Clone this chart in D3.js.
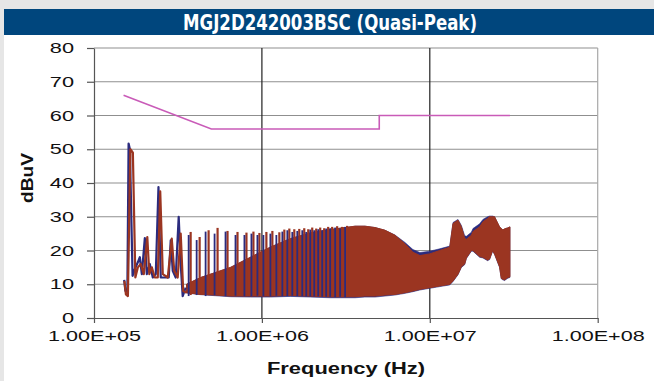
<!DOCTYPE html>
<html><head><meta charset="utf-8">
<script src="https://cdn.jsdelivr.net/npm/d3@7"></script>
<style>html,body{margin:0;padding:0;background:#e6e6e6;}svg{display:block}</style>
</head><body><svg id="c" width="654" height="381"></svg>
<script>
// ---------- DATA ----------
const chartTitle = "MGJ2D242003BSC (Quasi-Peak)";
const yTicks = [0, 10, 20, 30, 40, 50, 60, 70, 80];
const xTicks = [1e5, 1e6, 1e7, 1e8];
const xTickLabels = ["1.00E+05", "1.00E+06", "1.00E+07", "1.00E+08"];
const xTitle = "Frequency (Hz)";
const yTitle = "dBuV";

// limit line (Hz, dBuV)
const limitFreq = [150000, 500000, 5000000, 5000000, 30000000];
const limitVal  = [66, 56, 56, 60, 60];

// low-frequency trace, series A (blue), kHz / dBuV
const blueFreqKHz = [151.3, 153.8, 158.0, 160.7, 163.6, 169.7, 175.1, 182.4, 187.5, 192.7, 200.8, 206.3, 214.9, 224.0, 233.3, 242.1, 249.8, 267.6, 278.7, 286.4, 294.4, 306.7, 319.5, 328.4, 337.5, 351.6];
const blueVal     = [11.3, 8.0, 7.8, 51.7, 50.0, 12.5, 14.5, 16.5, 18.0, 13.0, 23.7, 13.0, 16.0, 12.0, 13.0, 38.8, 12.0, 12.0, 12.0, 23.0, 14.0, 12.0, 30.0, 16.0, 6.5, 9.0];
// low-frequency trace, series B (rust), kHz / dBuV
const rustFreqKHz = [151.7, 154.9, 159.2, 164.7, 170.4, 176.3, 182.4, 190.0, 198.0, 207.7, 213.5, 221.0, 230.1, 239.8, 248.0, 256.8, 275.0, 290.4, 300.5, 315.1, 328.4, 339.8, 356.4];
const rustVal     = [11.0, 7.0, 6.5, 50.0, 49.0, 12.0, 15.0, 16.0, 13.0, 24.0, 13.0, 15.0, 12.0, 12.0, 37.5, 13.0, 12.0, 23.5, 14.0, 12.0, 25.0, 8.0, 7.5];

// harmonic spikes (MHz / dBuV peak, dBuV trough)
const blueSpikeMHz = [0.3662, 0.4087, 0.4621, 0.5226, 0.6073, 0.6963, 0.7870, 0.8663, 0.9404, 1.0207, 1.1233, 1.2194, 1.3236, 1.4171, 1.5172, 1.6245, 1.7394, 1.8370, 1.9403, 2.0494, 2.1645, 2.2862, 2.4146, 2.5503, 2.7306, 2.9240, 3.1307];
const blueSpikeTop = [24.6, 23.1, 25.6, 25.0, 25.6, 24.6, 24.6, 25.0, 24.6, 24.6, 25.0, 24.6, 25.6, 26.0, 25.5, 25.8, 26.0, 25.5, 26.2, 26.0, 26.3, 26.0, 26.5, 26.6, 26.8, 26.5, 27.0];
const blueSpikeLow = [6.5, 6.8, 6.5, 6.8, 6.5, 6.6, 6.5, 6.5, 6.6, 6.5, 6.5, 6.6, 6.5, 6.5, 6.6, 6.5, 6.5, 6.4, 6.5, 6.4, 6.4, 6.3, 6.3, 6.3, 6.2, 6.3, 6.2];
const rustSpikeMHz = [0.3764, 0.4258, 0.4815, 0.5445, 0.6241, 0.7156, 0.8091, 0.8903, 0.9664, 1.0634, 1.1544, 1.2704, 1.3602, 1.4563, 1.5593, 1.6695, 1.7875, 1.8879, 1.9940, 2.1062, 2.2245, 2.3495, 2.4815, 2.6210, 2.8063, 3.0050, 3.2175];
const rustSpikeTop = [25.5, 24.0, 26.0, 26.7, 25.8, 25.5, 25.3, 25.6, 25.2, 25.5, 25.8, 25.4, 26.2, 26.5, 26.3, 26.4, 26.6, 26.3, 26.8, 26.5, 26.8, 26.6, 27.0, 27.0, 27.2, 27.0, 27.3];
const rustSpikeLow = [6.8, 7.0, 6.8, 7.0, 6.8, 6.8, 6.8, 6.7, 6.8, 6.8, 6.7, 6.8, 6.7, 6.8, 6.7, 6.6, 6.6, 6.6, 6.5, 6.5, 6.5, 6.4, 6.4, 6.4, 6.3, 6.3, 6.3];

// dense region envelope (MHz / dBuV)
const bandFreqMHz = [0.356, 0.4315, 0.530, 0.650, 0.855, 1.123, 1.476, 1.940, 2.55, 3.13, 3.59, 4.11, 4.72, 5.41, 6.20, 7.11, 7.93, 8.73, 10.0, 11.46, 13.15, 13.75, 14.72, 15.42, 16.13, 16.51, 17.68, 18.07, 19.81, 20.72, 22.09, 22.71, 23.66, 24.31, 26.03, 26.65, 27.23, 27.87, 29.15, 30.0];
const rustUpper = [10, 12, 13.5, 15, 18, 21, 23.5, 25.2, 26.2, 26.8, 27.2, 27.2, 26.8, 26, 24.5, 22, 19.5, 18.5, 19, 20, 21, 28, 29, 27, 23.6, 23.3, 24.5, 25.6, 27, 28.5, 29.5, 30, 30, 30, 27, 26.5, 26.1, 26.4, 26.7, 27];
const rustLower = [7.5, 7, 6.8, 6.5, 6.5, 6.5, 6.7, 6.5, 6.3, 6.3, 6.3, 6.5, 6.5, 6.8, 7, 7.5, 8, 8.5, 9, 9.5, 10, 11, 13, 15.2, 16, 17.8, 20, 20, 18.2, 18, 17.2, 17.5, 20, 19, 15.2, 11.8, 11.5, 11.3, 12, 12.2];
const blueUpper = [10, 12, 13.5, 15, 18, 21, 23.5, 25.2, 26.2, 26.8, 27.2, 27.2, 26.8, 26, 24.6, 22.4, 20.3, 19.4, 19.8, 20.5, 21.3, 28.3, 29.2, 27.4, 24.4, 24.2, 25.4, 26.5, 27.9, 29.2, 30, 30.2, 30.2, 30, 27, 26.5, 26.1, 26.4, 26.7, 27];
const blueLower = [7.4, 6.9, 6.6, 6.3, 6.2, 6.2, 6.4, 6.2, 6.0, 6.0, 6.0, 6.2, 6.2, 6.5, 6.8, 7.3, 7.8, 8.3, 8.8, 9.3, 9.8, 10.8, 12.8, 15.0, 15.8, 17.6, 19.8, 19.8, 18.0, 17.8, 17.0, 17.3, 19.8, 18.8, 15.0, 11.6, 11.3, 11.1, 11.8, 12.0];

// ---------- DRAW ----------
const W = 654, H = 381;
const svg = d3.select("#c");
const blue = "#2b2b7e", rust = "#9b3521", limitColor = "#c95bb8";

svg.append("rect").attr("width", W).attr("height", H).attr("fill", "#e6e6e6");
svg.append("rect").attr("x", 4).attr("y", 35).attr("width", W - 4).attr("height", H - 35).attr("fill", "#ffffff");
svg.append("rect").attr("x", 4).attr("y", 9).attr("width", W - 4).attr("height", 26).attr("fill", "#00467d");

function fit(sel, w) {
  sel.attr("textLength", w).attr("lengthAdjust", "spacingAndGlyphs");
}
function stretch(sel, f) {
  sel.each(function () {
    const w = this.getComputedTextLength();
    d3.select(this).attr("textLength", w * f).attr("lengthAdjust", "spacingAndGlyphs");
  });
}

svg.append("text").attr("x", 330).attr("y", 29.5).attr("text-anchor", "middle")
  .attr("fill", "#fff").attr("font-family", "'Liberation Sans Narrow','DejaVu Sans Condensed',Arial,sans-serif")
  .attr("font-weight", "bold").attr("font-size", 21).text(chartTitle).call(fit, 294);

const x = d3.scaleLog().domain([1e5, 1e8]).range([94, 597.7]);
const y = d3.scaleLinear().domain([0, 80]).range([318, 48]);

// gridlines
svg.append("g").selectAll("line").data(yTicks.filter(d => d > 0)).join("line")
  .attr("x1", x(1e5)).attr("x2", x(1e8)).attr("y1", d => y(d)).attr("y2", d => y(d))
  .attr("stroke", "#8f8f8f").attr("stroke-width", 1.2);
svg.append("g").selectAll("line").data(xTicks.slice(1)).join("line")
  .attr("x1", d => x(d)).attr("x2", d => x(d)).attr("y1", y(0)).attr("y2", y(80))
  .attr("stroke", (d, i) => i === xTicks.length - 2 ? "#a8a8a8" : "#222").attr("stroke-width", 1.2);

// axes
const gy = svg.append("g").attr("transform", `translate(${x(1e5)},0)`)
  .call(d3.axisLeft(y).tickValues(yTicks).tickSize(7).tickSizeOuter(0).tickPadding(13).tickFormat(d3.format("d")));
gy.selectAll("path,line").attr("stroke", "#555").attr("stroke-width", 1.2);
gy.selectAll("text").attr("font-family", "'Liberation Sans',Arial,sans-serif").attr("font-size", 14.5).attr("fill", "#111").call(stretch, 1.5);

const gx = svg.append("g").attr("transform", `translate(0,${y(0)})`)
  .call(d3.axisBottom(x).tickValues(xTicks).tickSize(5).tickSizeOuter(0).tickPadding(7).tickFormat((d, i) => xTickLabels[i]));
gx.selectAll("path,line").attr("stroke", "#555").attr("stroke-width", 1.2);
gx.selectAll("text").attr("font-family", "'Liberation Sans',Arial,sans-serif").attr("font-size", 15.5).attr("fill", "#111").call(fit, 93);

// axis titles
svg.append("text").attr("transform", "translate(33,178) rotate(-90)").attr("text-anchor", "middle")
  .attr("font-family", "'Liberation Sans',Arial,sans-serif").attr("font-weight", "bold").attr("font-size", 17)
  .attr("fill", "#111").text(yTitle).call(fit, 50);
svg.append("text").attr("x", 346).attr("y", 374).attr("text-anchor", "middle")
  .attr("font-family", "'Liberation Sans',Arial,sans-serif").attr("font-weight", "bold").attr("font-size", 16)
  .attr("fill", "#111").text(xTitle).call(fit, 158);

// limit line
svg.append("path").datum(limitFreq.map((f, i) => [f, limitVal[i]]))
  .attr("d", d3.line().x(d => x(d[0])).y(d => y(d[1])))
  .attr("fill", "none").attr("stroke", limitColor).attr("stroke-width", 1.6);

// bands
const area = d3.area().x(d => x(d[0] * 1e6)).y0(d => y(d[1])).y1(d => y(d[2]));
svg.append("path").datum(bandFreqMHz.map((f, i) => [f, blueLower[i], blueUpper[i]]))
  .attr("d", area).attr("fill", blue).attr("stroke", blue).attr("stroke-width", 0.6);
svg.append("path").datum(bandFreqMHz.map((f, i) => [f, rustLower[i], rustUpper[i]]))
  .attr("d", area).attr("fill", rust).attr("stroke", rust).attr("stroke-width", 1);

// low-frequency traces
const line = d3.line().x(d => x(d[0] * 1e3)).y(d => y(d[1])).curve(d3.curveLinear);
svg.append("path").datum(blueFreqKHz.map((f, i) => [f, blueVal[i]]))
  .attr("d", line).attr("fill", "none").attr("stroke", blue).attr("stroke-width", 2.2).attr("stroke-linejoin", "round");
svg.append("path").datum(rustFreqKHz.map((f, i) => [f, rustVal[i]]))
  .attr("d", line).attr("fill", "none").attr("stroke", rust).attr("stroke-width", 2.2).attr("stroke-linejoin", "round");

// spikes
svg.append("g").selectAll("line").data(rustSpikeMHz.map((f, i) => [f, rustSpikeLow[i], rustSpikeTop[i]])).join("line")
  .attr("x1", d => x(d[0] * 1e6)).attr("x2", d => x(d[0] * 1e6)).attr("y1", d => y(d[1])).attr("y2", d => y(d[2]))
  .attr("stroke", rust).attr("stroke-width", 2.2);
svg.append("g").selectAll("line").data(blueSpikeMHz.map((f, i) => [f, blueSpikeLow[i], blueSpikeTop[i]])).join("line")
  .attr("x1", d => x(d[0] * 1e6)).attr("x2", d => x(d[0] * 1e6)).attr("y1", d => y(d[1])).attr("y2", d => y(d[2]))
  .attr("stroke", blue).attr("stroke-width", 1.8);
</script></body></html>
